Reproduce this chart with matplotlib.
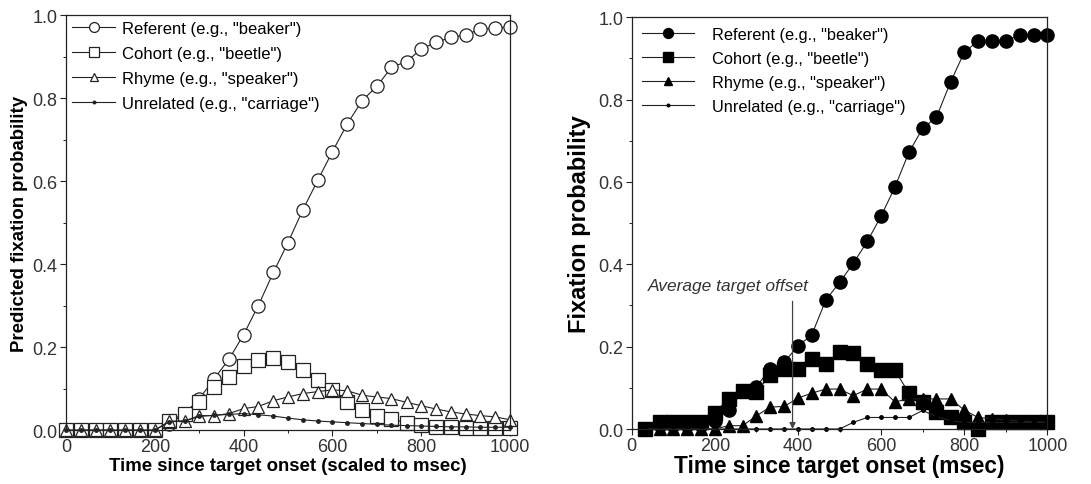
import matplotlib
matplotlib.use("Agg")
import matplotlib.pyplot as plt
from matplotlib.ticker import MultipleLocator

plt.rcParams['font.family'] = ['Liberation Sans', 'DejaVu Sans']

# ---------------- Left panel (model predictions) ----------------
left_time = [0, 33, 67, 100, 133, 167, 200, 233, 267, 300, 333, 367, 400, 433, 467,
             500, 533, 567, 600, 633, 667, 700, 733, 767, 800, 833, 867, 900, 933, 967, 1000]
left_referent = [0.0, 0.0, 0.0, 0.0, 0.0, 0.0, 0.0, 0.015, 0.04, 0.075, 0.123, 0.171, 0.23,
                 0.30, 0.38, 0.452, 0.53, 0.602, 0.671, 0.737, 0.794, 0.828, 0.874, 0.888,
                 0.918, 0.934, 0.946, 0.952, 0.966, 0.968, 0.972]
left_cohort = [0.0, 0.0, 0.0, 0.0, 0.0, 0.0, 0.0, 0.022, 0.04, 0.067, 0.103, 0.128, 0.155,
               0.169, 0.173, 0.165, 0.145, 0.12, 0.097, 0.069, 0.049, 0.033, 0.027, 0.018,
               0.012, 0.008, 0.007, 0.006, 0.005, 0.005, 0.005]
left_rhyme = [0.0, 0.0, 0.0, 0.0, 0.0, 0.0, 0.0, 0.022, 0.022, 0.035, 0.035, 0.04, 0.052,
              0.057, 0.071, 0.08, 0.088, 0.093, 0.097, 0.095, 0.084, 0.08, 0.076, 0.067,
              0.059, 0.051, 0.044, 0.039, 0.035, 0.032, 0.025]
left_unrelated = [0.0, 0.0, 0.0, 0.0, 0.0, 0.0, 0.0, 0.02, 0.022, 0.033, 0.036, 0.038, 0.04,
                  0.037, 0.034, 0.029, 0.025, 0.022, 0.02, 0.018, 0.016, 0.014, 0.012, 0.011,
                  0.01, 0.009, 0.008, 0.008, 0.007, 0.007, 0.007]

# ---------------- Right panel (eye-tracking data) ----------------
right_time = [33, 67, 100, 133, 167, 200, 233, 267, 300, 333, 367, 400, 433, 467, 500,
              533, 567, 600, 633, 667, 700, 733, 767, 800, 833, 867, 900, 933, 967, 1000]
right_referent = [0.0, 0.01, 0.01, 0.01, 0.01, 0.02, 0.045, 0.093, 0.103, 0.146, 0.162, 0.202,
                  0.228, 0.313, 0.356, 0.402, 0.456, 0.517, 0.587, 0.672, 0.730, 0.757, 0.842,
                  0.915, 0.942, 0.942, 0.942, 0.957, 0.957, 0.957]
right_cohort = [0.0, 0.016, 0.016, 0.016, 0.016, 0.04, 0.073, 0.093, 0.09, 0.131, 0.146, 0.146,
                0.17, 0.158, 0.186, 0.184, 0.158, 0.143, 0.143, 0.087, 0.065, 0.042, 0.028,
                0.016, 0.0, 0.016, 0.016, 0.016, 0.016, 0.016]
right_rhyme = [0.0, 0.0, 0.0, 0.0, 0.0, 0.0, 0.008, 0.008, 0.032, 0.053, 0.055, 0.075, 0.087,
               0.097, 0.097, 0.081, 0.097, 0.097, 0.066, 0.073, 0.073, 0.073, 0.073, 0.046,
               0.028, 0.025, 0.022, 0.02, 0.018, 0.016]
right_unrelated = [0.0, 0.0, 0.0, 0.0, 0.0, 0.0, 0.0, 0.0, 0.0, 0.0, 0.0, 0.0, 0.0, 0.0, 0.0,
                   0.016, 0.028, 0.028, 0.028, 0.028, 0.045, 0.03, 0.02, 0.016, 0.016, 0.016,
                   0.016, 0.016, 0.016, 0.016]

labels = ['Referent (e.g., "beaker")', 'Cohort (e.g., "beetle")',
          'Rhyme (e.g., "speaker")', 'Unrelated (e.g., "carriage")']
x_ticks = [0, 200, 400, 600, 800, 1000]
y_ticks = [0.0, 0.2, 0.4, 0.6, 0.8, 1.0]
offset_time = 387
offset_label = 'Average target offset'

fig = plt.figure(figsize=(10.91, 4.85), dpi=100)
axL = fig.add_axes([0.0605, 0.111, 0.407, 0.856])
axR = fig.add_axes([0.579, 0.1134, 0.381, 0.849])

ink = '#222222'
lw = 0.8

# Left panel
axL.plot(left_time, left_referent, color=ink, lw=lw, marker='o', ms=9.5, mfc='white', mec=ink, mew=0.9, label=labels[0], clip_on=False)
axL.plot(left_time, left_cohort, color=ink, lw=lw, marker='s', ms=9.5, mfc='white', mec=ink, mew=0.9, label=labels[1], clip_on=False)
axL.plot(left_time, left_rhyme, color=ink, lw=lw, marker='^', ms=8.5, mfc='white', mec=ink, mew=0.9, label=labels[2], clip_on=False)
axL.plot(left_time, left_unrelated, color=ink, lw=lw, marker='o', ms=2.5, mfc=ink, mec=ink, label=labels[3], clip_on=False)

# Right panel
axR.plot(right_time, right_referent, color=ink, lw=lw, marker='o', ms=9.5, mfc='black', mec='black', label=labels[0], clip_on=False)
axR.plot(right_time, right_cohort, color=ink, lw=lw, marker='s', ms=9.5, mfc='black', mec='black', label=labels[1], clip_on=False)
axR.plot(right_time, right_rhyme, color=ink, lw=lw, marker='^', ms=8.5, mfc='black', mec='black', label=labels[2], clip_on=False)
axR.plot(right_time, right_unrelated, color=ink, lw=lw, marker='o', ms=2.5, mfc='black', mec='black', label=labels[3], clip_on=False)

axR.annotate('', xy=(offset_time, 0.0), xytext=(offset_time, 0.31),
             arrowprops=dict(arrowstyle='-|>', color='#444444', lw=0.9, mutation_scale=9,
                             shrinkA=0, shrinkB=0))
axR.text(offset_time + 40, 0.33, offset_label, style='italic', fontsize=12.5,
         ha='right', va='bottom', color='#333333')

for ax in (axL, axR):
    ax.set_xlim(0, 1000)
    ax.set_ylim(0, 1.0)
    ax.set_xticks(x_ticks)
    ax.set_yticks(y_ticks)
    ax.set_yticklabels([f'{v:.1f}' for v in y_ticks])
    ax.xaxis.set_minor_locator(MultipleLocator(100))
    ax.yaxis.set_minor_locator(MultipleLocator(0.1))
    ax.tick_params(which='major', direction='out', length=4, width=0.8, labelsize=13,
                   colors=ink, labelcolor='#333333', pad=2)
    ax.tick_params(which='minor', direction='out', length=2, width=0.7, colors=ink)
    for s in ax.spines.values():
        s.set_linewidth(0.9)
        s.set_color(ink)

axL.set_xlabel('Time since target onset (scaled to msec)', fontsize=13.4, fontweight='bold', labelpad=1)
axL.set_ylabel('Predicted fixation probability', fontsize=13.4, fontweight='bold', labelpad=3)
axR.set_xlabel('Time since target onset (msec)', fontsize=16.3, fontweight='bold', labelpad=0)
axR.set_ylabel('Fixation probability', fontsize=17, fontweight='bold', labelpad=5)

axL.legend(loc='upper left', frameon=False, fontsize=12, handlelength=2.6,
           handletextpad=0.4, labelspacing=0.6, borderaxespad=0.15, borderpad=0.2,
           markerscale=0.75)
axR.legend(loc='upper left', frameon=False, fontsize=11.8, handlelength=3.2,
           handletextpad=1.1, labelspacing=0.55, borderaxespad=0.3, borderpad=0.3,
           markerscale=0.75)

fig.savefig('out.png', dpi=100)
